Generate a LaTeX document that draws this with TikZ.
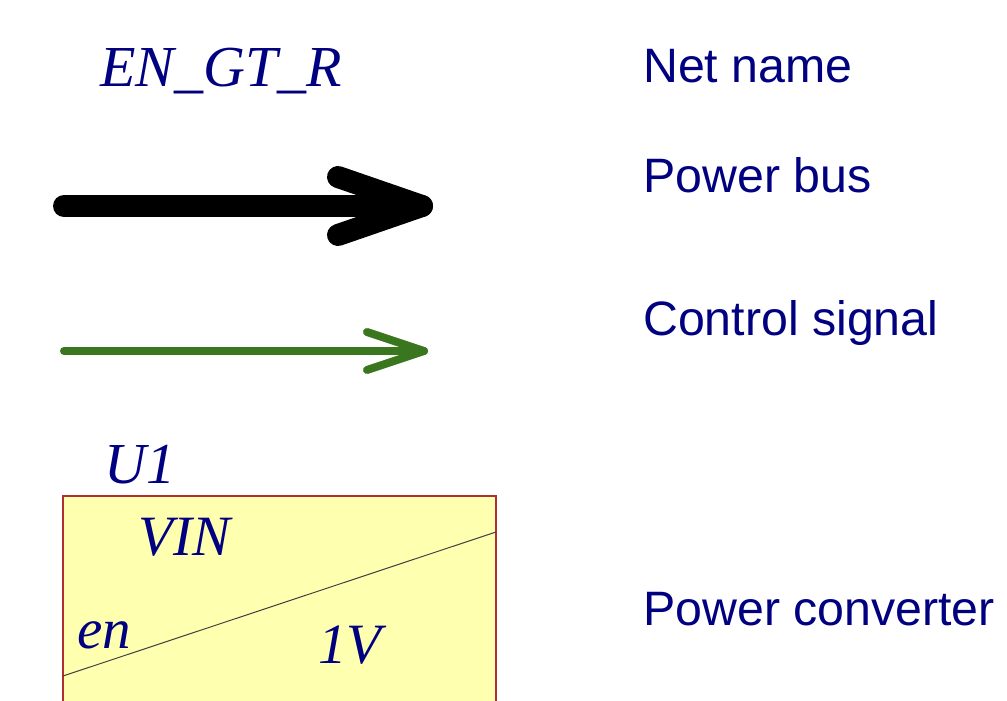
\documentclass[tikz,border=0pt]{standalone}
\usepackage{fontspec}
\setmainfont{Liberation Serif}
\newfontfamily\labelfont{Liberation Sans}
\definecolor{navytext}{RGB}{0,0,128}
\definecolor{ctrlgreen}{RGB}{58,118,30}
\definecolor{boxfill}{RGB}{255,255,176}
\definecolor{boxedge}{RGB}{176,48,48}
\tikzset{
  netlabel/.style={anchor=base west, inner sep=0pt, text=navytext, font=\fontsize{58}{60}\selectfont\itshape},
  pinlabel/.style={anchor=base west, inner sep=0pt, text=navytext, font=\fontsize{57}{59}\selectfont\itshape},
  legendtext/.style={anchor=base west, inner sep=0pt, text=navytext, font=\labelfont\fontsize{48.3}{50}\selectfont},
  powerbus/.style={draw=black, line width=22pt, line cap=round, line join=round},
  ctrlsig/.style={draw=ctrlgreen, line width=8pt, line cap=round, line join=round},
  convbox/.style={draw=boxedge, fill=boxfill, line width=1.3pt},
  divider/.style={draw=black!75, line width=1pt}
}
\begin{document}
\begin{tikzpicture}[x=1pt,y=-1pt]
\useasboundingbox (0,0) rectangle (1007,701);
% net name
\node[netlabel] (netname) at (100,87) {EN\_GT\_R};
\node[legendtext] (lnet) at (643,83) {Net name};
% power bus
\coordinate (pbstart) at (64,206);
\coordinate (pbtip) at (422,206);
\coordinate (pbup) at (338,177);
\coordinate (pbdn) at (338,235);
\draw[powerbus] (pbstart) -- (pbtip);
\draw[powerbus] (pbup) -- (pbtip) -- (pbdn);
\node[legendtext] (lbus) at (643,192) {Power bus};
% control signal
\coordinate (csstart) at (64,351);
\coordinate (cstip) at (424,351);
\coordinate (csup) at (367,332);
\coordinate (csdn) at (367,370);
\draw[ctrlsig] (csstart) -- (cstip);
\draw[ctrlsig] (csup) -- (cstip) -- (csdn);
\node[legendtext] (lctrl) at (643,335) {Control signal};
% power converter
\node[netlabel] (u1) at (104,483) {U1};
\draw[convbox] (63,496) rectangle (496,720);
\coordinate (dstart) at (63,676);
\coordinate (dend) at (496,532);
\draw[divider] (dstart) -- (dend);
\node[pinlabel] (vin) at (138,555) {VIN};
\node[pinlabel] (en) at (77,648) {en};
\node[pinlabel] (onev) at (318,663) {1V};
\node[legendtext] (lconv) at (643,625) {Power converter};
\end{tikzpicture}
\end{document}
